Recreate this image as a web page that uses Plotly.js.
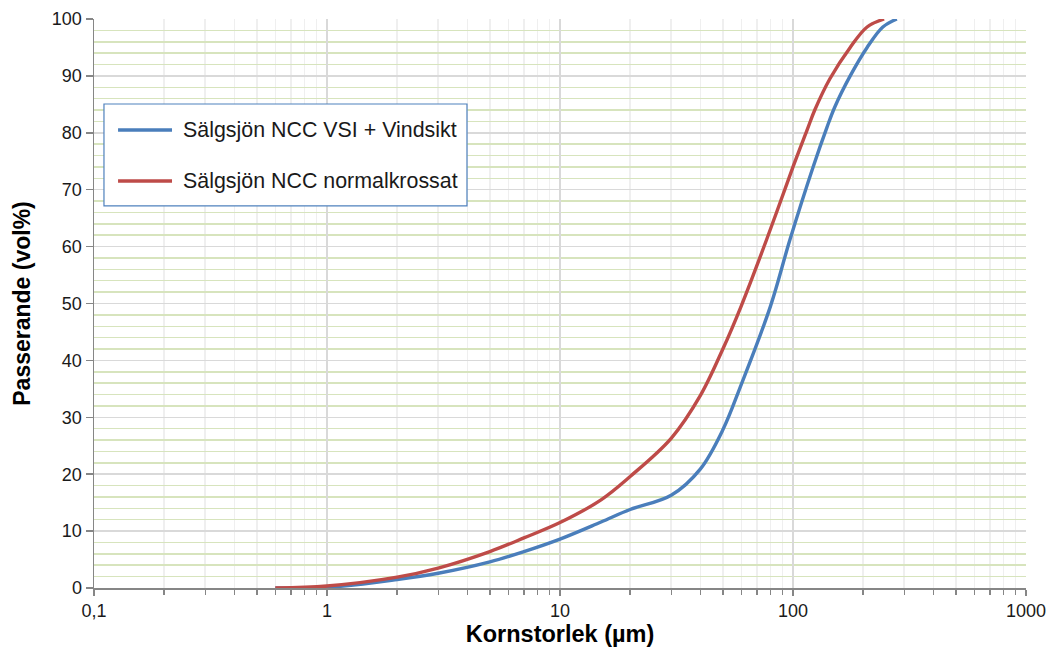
<!DOCTYPE html>
<html>
<head>
<meta charset="utf-8">
<script src="https://cdn.plot.ly/plotly-3.0.1.min.js"></script>
<style>
  html, body { margin: 0; padding: 0; background: #fff; }
  #chart { width: 1049px; height: 650px; }
</style>
</head>
<body>
<div id="chart"></div>
<script>
// Kornstorleksfördelning, Sälgsjön NCC
const vsiSize = [0.6, 1, 2, 3, 5, 7, 10, 15, 20, 30, 40, 50, 60, 80, 97, 122, 140, 151, 176, 208, 243, 279];
const vsiPass = [0, 0.1, 1.5, 2.6, 4.6, 6.4, 8.6, 11.6, 13.8, 16.3, 20.9, 27.8, 35.8, 49.5, 61.2, 74.0, 81.0, 84.5, 90.0, 95.0, 98.6, 100];

const normSize = [0.6, 1, 2, 3, 5, 7, 10, 15, 20, 30, 40, 50, 60, 77, 100, 115, 124, 144, 176, 208, 246];
const normPass = [0, 0.35, 1.9, 3.5, 6.4, 8.8, 11.5, 15.5, 19.6, 26.3, 33.8, 42.0, 49.6, 61.2, 74.0, 80.5, 84.0, 89.5, 95.0, 98.6, 100];

const seriesNames = ['Sälgsjön NCC VSI + Vindsikt', 'Sälgsjön NCC normalkrossat'];
const seriesColors = ['#4A7EBB', '#BE4B48'];
const xTickVals = [0.1, 1, 10, 100, 1000];
const xTickText = ['0,1', '1', '10', '100', '1000'];

const font = 'Liberation Sans, Arial, sans-serif';

const traces = [
  {
    x: vsiSize, y: vsiPass, name: seriesNames[0],
    type: 'scatter', mode: 'lines',
    line: { color: seriesColors[0], width: 3.4, shape: 'spline', smoothing: 1 }
  },
  {
    x: normSize, y: normPass, name: seriesNames[1],
    type: 'scatter', mode: 'lines',
    line: { color: seriesColors[1], width: 3.4, shape: 'spline', smoothing: 1 }
  }
];

// Legend box drawn in paper coordinates, one row per series
const legendBox = { x0: 0.0107, x1: 0.4002, y0: 0.6714, y1: 0.8506 };
const legendRows = [0.8049, 0.7153];
const legendLine = { x0: 0.0258, x1: 0.0837 };
const legendTextX = 0.0933;

const shapes = [
  {
    type: 'rect', xref: 'paper', yref: 'paper',
    x0: legendBox.x0, x1: legendBox.x1, y0: legendBox.y0, y1: legendBox.y1,
    line: { color: '#4F81BD', width: 1.2 }, fillcolor: '#fff', layer: 'above'
  }
];
const annotations = [];
seriesNames.forEach((name, i) => {
  shapes.push({
    type: 'line', xref: 'paper', yref: 'paper',
    x0: legendLine.x0, x1: legendLine.x1, y0: legendRows[i], y1: legendRows[i],
    line: { color: seriesColors[i], width: 3.4 }, layer: 'above'
  });
  annotations.push({
    xref: 'paper', yref: 'paper', x: legendTextX, y: legendRows[i],
    xanchor: 'left', yanchor: 'middle', showarrow: false,
    text: name, font: { family: font, size: 21.4, color: '#1a1a1a' }
  });
});

const layout = {
  width: 1049, height: 650,
  margin: { l: 94, r: 23, t: 19, b: 62 },
  paper_bgcolor: '#fff', plot_bgcolor: '#fff',
  font: { family: font, color: '#1a1a1a', size: 18 },
  showlegend: false,
  shapes: shapes,
  annotations: annotations,
  xaxis: {
    type: 'log', range: [-1, 3],
    tickvals: xTickVals, ticktext: xTickText,
    ticks: 'outside', ticklen: 6, tickcolor: '#868686', tickwidth: 1.5,
    showline: true, linecolor: '#868686', linewidth: 1.5,
    showgrid: true, gridcolor: '#d9d9d9', gridwidth: 1.5,
    zeroline: false,
    tickfont: { family: font, size: 18, color: '#1a1a1a' },
    minor: {
      dtick: 'D1', ticks: 'outside', ticklen: 5, tickcolor: '#868686',
      tickwidth: 1.3, showgrid: true, gridcolor: '#efefef', gridwidth: 1.5
    },
    title: { text: 'Kornstorlek (µm)', font: { family: font, size: 23.5, color: '#000', weight: 'bold' }, standoff: 4 }
  },
  yaxis: {
    range: [0, 100], dtick: 10, tick0: 0,
    ticks: 'outside', ticklen: 7, tickcolor: '#868686', tickwidth: 1.5,
    showline: true, linecolor: '#868686', linewidth: 1.5,
    showgrid: true, gridcolor: '#d9d9d9', gridwidth: 1.5,
    zeroline: false,
    tickfont: { family: font, size: 18, color: '#1a1a1a' },
    minor: { dtick: 2, showgrid: true, gridcolor: '#d7e4bd', gridwidth: 1.5 },
    title: { text: 'Passerande (vol%)', font: { family: font, size: 23, color: '#000', weight: 'bold' }, standoff: 15 }
  }
};

Plotly.newPlot('chart', traces, layout, { displayModeBar: false, staticPlot: true });
</script>
</body>
</html>
